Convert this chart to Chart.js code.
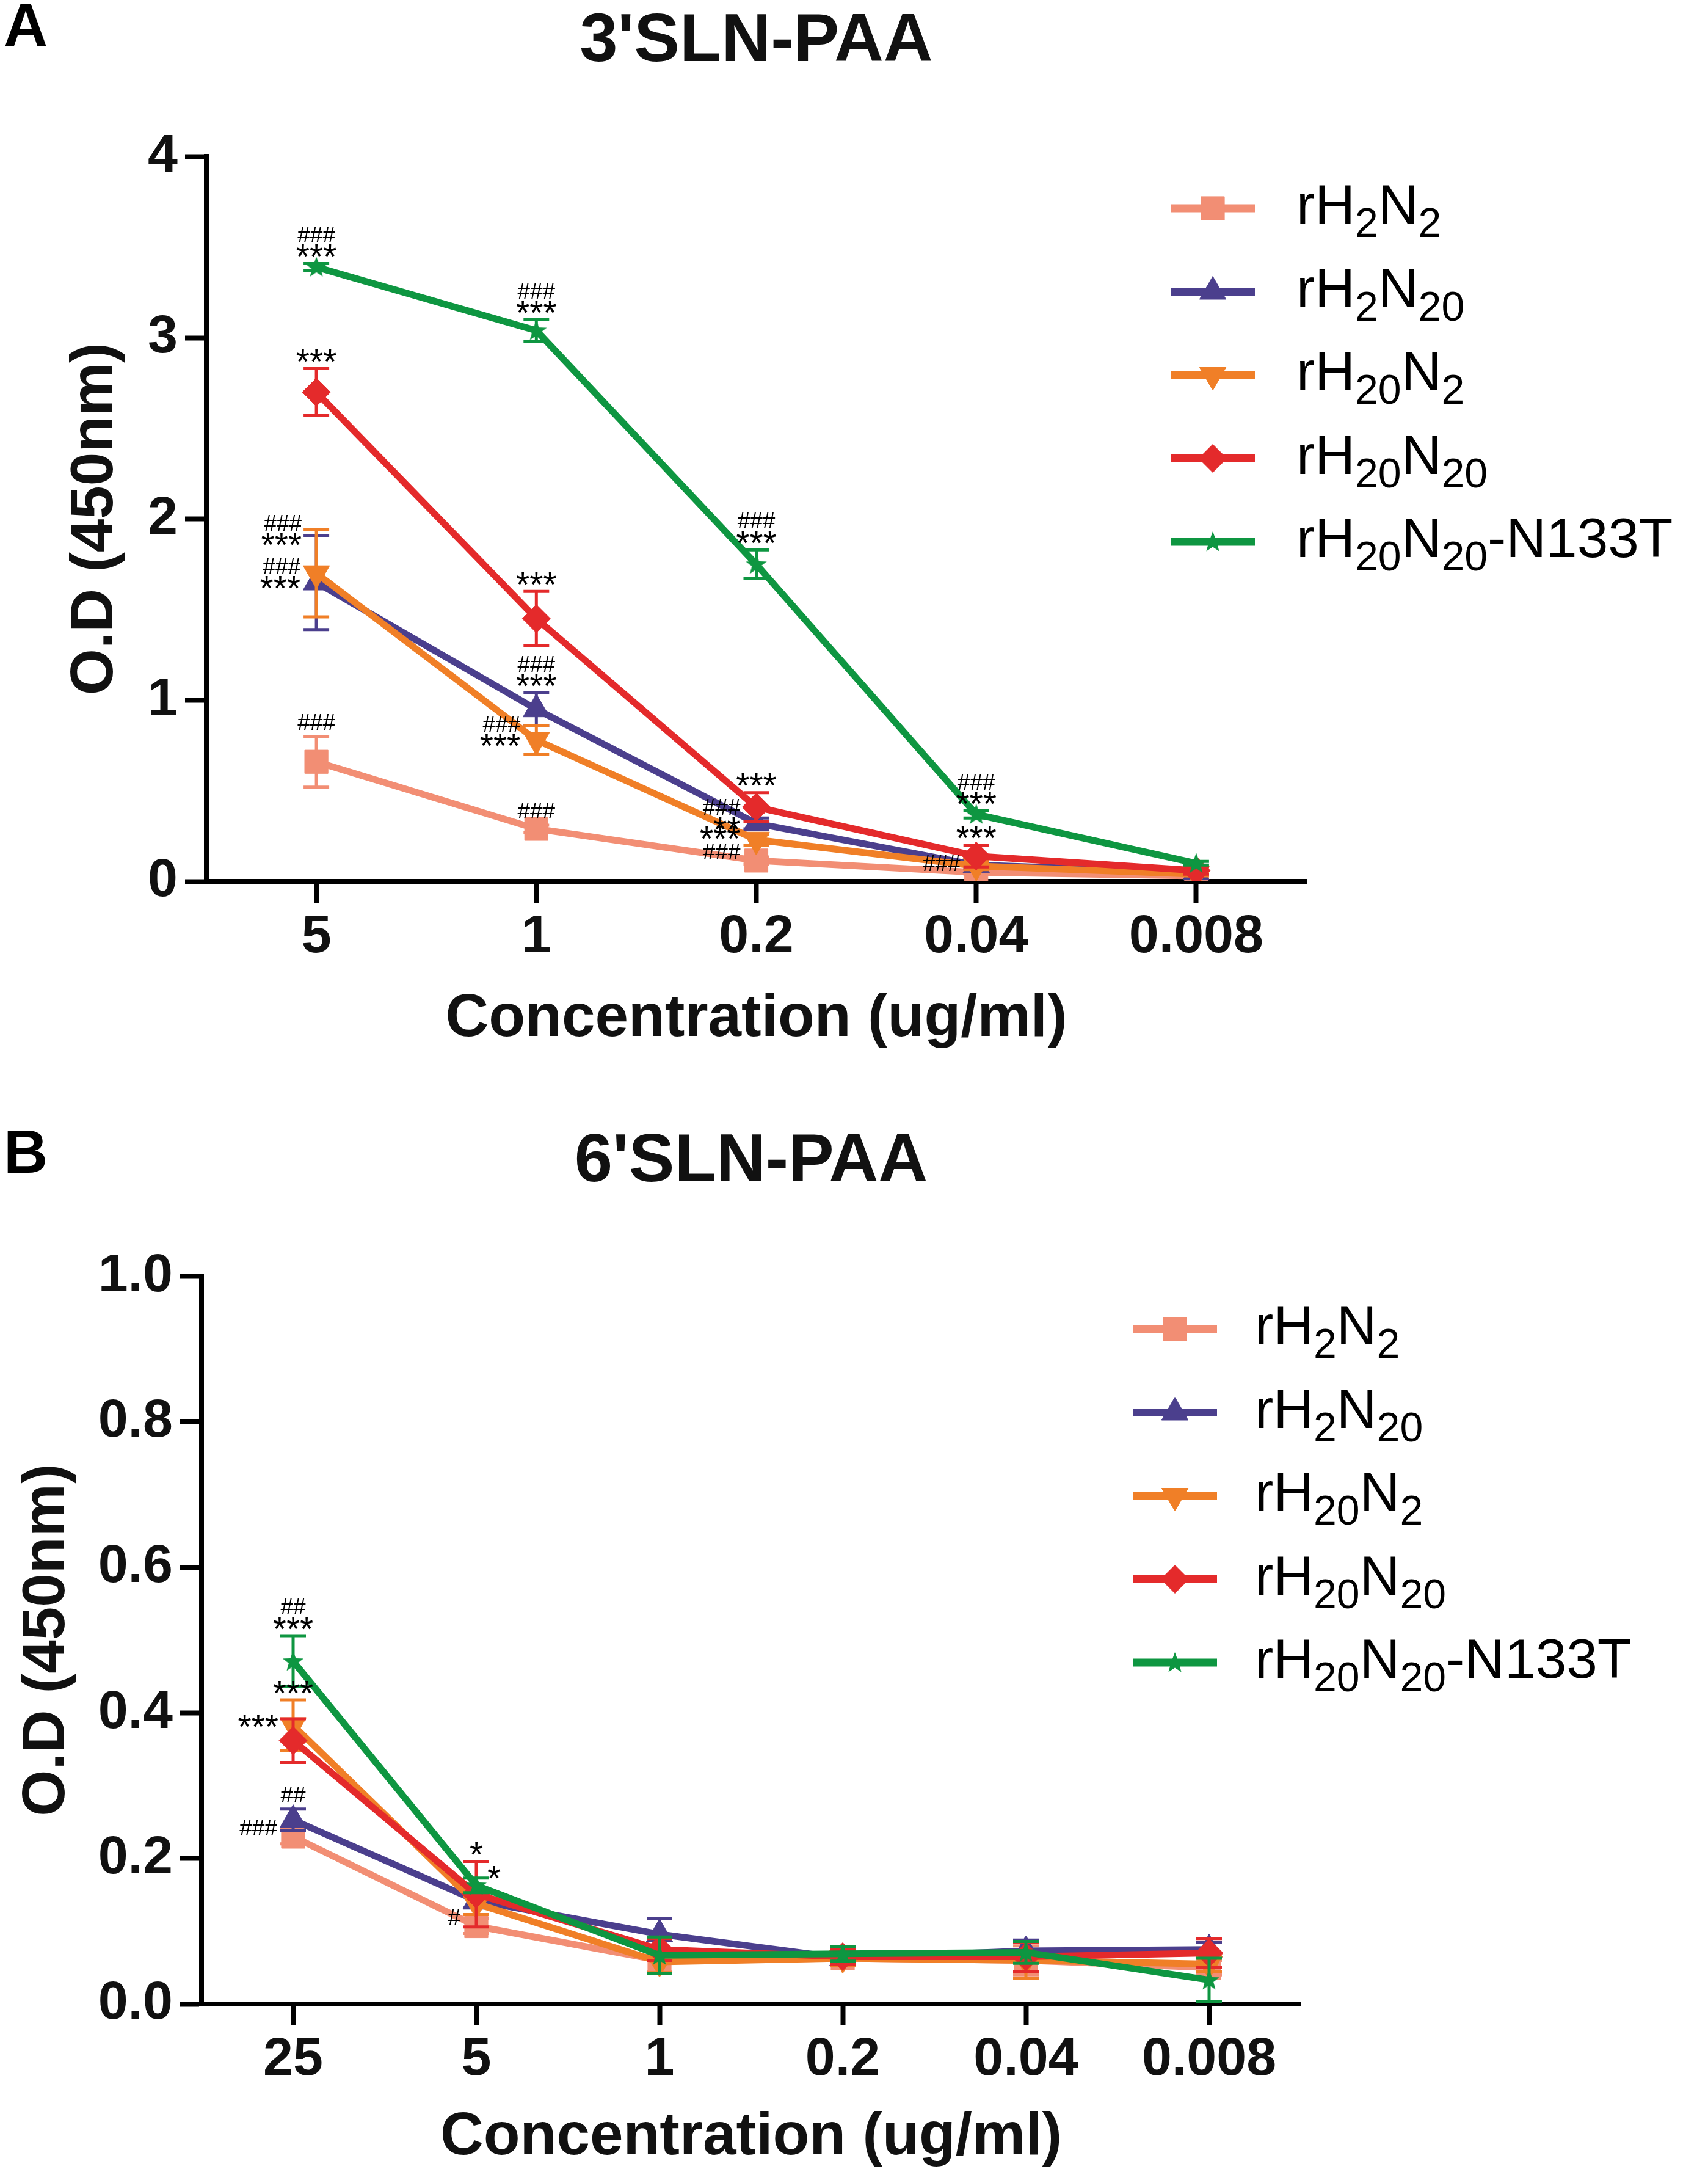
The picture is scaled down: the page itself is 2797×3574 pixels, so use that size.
<!DOCTYPE html>
<html>
<head>
<meta charset="utf-8">
<title>3'SLN-PAA / 6'SLN-PAA binding</title>
<script src="https://cdn.jsdelivr.net/npm/chart.js@4.4.1/dist/chart.umd.min.js"></script>
<style>
  body { margin: 0; background: #fff; }
  canvas { display: block; }
</style>
</head>
<body>
<canvas id="chart-a" width="2797" height="1790"></canvas>
<canvas id="chart-b" width="2797" height="1784"></canvas>
<script>
// series names, "_" marks the subscript digits that follow it
const seriesNames = ["rH_2N_2", "rH_2N_20", "rH_20N_2", "rH_20N_20", "rH_20N_20-N133T"];
const seriesColors = ["#F28E74", "#4B3F8D", "#F07F27", "#E42A2B", "#0E9641"];

// panel A: 3'SLN-PAA
const concA = ["5", "1", "0.2", "0.04", "0.008"];
const h2n2A = [0.66, 0.29, 0.115, 0.05, 0.03];
const h2n20A = [1.65, 0.95, 0.32, 0.09, 0.05];
const h20n2A = [1.70, 0.78, 0.23, 0.085, 0.04];
const h20n20A = [2.70, 1.45, 0.41, 0.14, 0.06];
const n133tA = [3.39, 3.04, 1.75, 0.37, 0.10];
const h2n2ErrA = [0.14, 0.02, 0.02, 0.01, 0.01];
const h2n20ErrA = [0.26, 0.09, 0.03, 0.02, 0.01];
const h20n2ErrA = [0.24, 0.08, 0.03, 0.02, 0.01];
const h20n20ErrA = [0.13, 0.15, 0.08, 0.06, 0.02];
const n133tErrA = [0.02, 0.06, 0.08, 0.02, 0.01];

// panel B: 6'SLN-PAA
const concB = ["25", "5", "1", "0.2", "0.04", "0.008"];
const h2n2B = [0.23, 0.107, 0.06, 0.063, 0.06, 0.05];
const h2n20B = [0.253, 0.142, 0.096, 0.063, 0.073, 0.075];
const h20n2B = [0.383, 0.138, 0.058, 0.063, 0.06, 0.055];
const h20n20B = [0.362, 0.151, 0.075, 0.065, 0.065, 0.07];
const n133tB = [0.471, 0.163, 0.067, 0.069, 0.071, 0.033];
const h2n2ErrB = [0.01, 0.01, 0.015, 0.01, 0.02, 0.01];
const h2n20ErrB = [0.015, 0.01, 0.022, 0.01, 0.015, 0.01];
const h20n2ErrB = [0.035, 0.015, 0.015, 0.01, 0.025, 0.01];
const h20n20ErrB = [0.03, 0.045, 0.015, 0.01, 0.02, 0.02];
const n133tErrB = [0.035, 0.01, 0.025, 0.01, 0.015, 0.03];

// significance marks: series, category, lines (top to bottom), where
const marksA = [
  { s: 4, c: 0, t: ["###", "***"], side: "above" },
  { s: 4, c: 1, t: ["###", "***"], side: "above" },
  { s: 4, c: 2, t: ["###", "***"], side: "above" },
  { s: 4, c: 3, t: ["###", "***"], side: "above" },
  { s: 3, c: 0, t: ["***"], side: "above" },
  { s: 3, c: 1, t: ["***"], side: "above" },
  { s: 3, c: 2, t: ["***"], side: "above" },
  { s: 3, c: 3, t: ["***"], side: "above" },
  { s: 2, c: 0, t: ["###", "***"], side: "leftTop" },
  { s: 1, c: 0, t: ["###", "***"], side: "left" },
  { s: 1, c: 1, t: ["###", "***"], side: "above" },
  { s: 2, c: 1, t: ["###", "***"], side: "left" },
  { s: 1, c: 2, t: ["###", "**"], side: "left" },
  { s: 2, c: 2, t: ["***"], side: "left" },
  { s: 0, c: 0, t: ["###"], side: "above" },
  { s: 0, c: 1, t: ["###"], side: "above" },
  { s: 0, c: 2, t: ["###"], side: "left" },
  { s: 0, c: 3, t: ["###"], side: "left" },
];
const marksB = [
  { s: 4, c: 0, t: ["##", "***"], side: "above" },
  { s: 2, c: 0, t: ["***"], side: "above" },
  { s: 3, c: 0, t: ["***"], side: "leftTop" },
  { s: 1, c: 0, t: ["##"], side: "above" },
  { s: 0, c: 0, t: ["###"], side: "left" },
  { s: 3, c: 1, t: ["*"], side: "above" },
  { s: 4, c: 1, t: ["*"], side: "right" },
  { s: 0, c: 1, t: ["#"], side: "left" },
];

const FONT = "'Liberation Sans', Arial, sans-serif";
const INK = "#111";

// small filled star for the N133T series
function makeStar(color) {
  const c = document.createElement("canvas");
  c.width = 38;
  c.height = 38;
  const g = c.getContext("2d");
  g.fillStyle = color;
  g.beginPath();
  for (let i = 0; i < 10; i++) {
    const r = i % 2 === 0 ? 18 : 7.5;
    const a = -Math.PI / 2 + (i * Math.PI) / 5;
    g.lineTo(19 + r * Math.cos(a), 20 + r * Math.sin(a));
  }
  g.closePath();
  g.fill();
  return c;
}

const pointStyles = [
  { style: "rect", radius: 27, rotation: 0 },
  { style: "triangle", radius: 25, rotation: 0 },
  { style: "triangle", radius: 25, rotation: 180 },
  { style: "rectRot", radius: 23, rotation: 0 },
  { style: makeStar(seriesColors[4]), radius: 18, rotation: 0 },
];

function buildDatasets(values, errors) {
  return values.map((data, i) => ({
    label: seriesNames[i].replace(/_/g, ""),
    data: data,
    errors: errors[i],
    borderColor: seriesColors[i],
    backgroundColor: seriesColors[i],
    borderWidth: 11,
    tension: 0,
    pointStyle: pointStyles[i].style,
    pointRadius: pointStyles[i].radius,
    pointRotation: pointStyles[i].rotation,
    pointBorderWidth: 1,
    pointBackgroundColor: seriesColors[i],
    pointBorderColor: seriesColors[i],
    order: values.length - i,
  }));
}

// draws a label with "_digits" as subscript
function drawRichLabel(ctx, text, x, y) {
  const parts = text.split(/(_\d+)/).filter((p) => p.length);
  let cx = x;
  parts.forEach((p) => {
    if (p[0] === "_") {
      ctx.font = "68px " + FONT;
      ctx.fillText(p.slice(1), cx, y + 22);
      cx += ctx.measureText(p.slice(1)).width;
    } else {
      ctx.font = "91px " + FONT;
      ctx.fillText(p, cx, y);
      cx += ctx.measureText(p).width;
    }
  });
}

const prismDecor = {
  id: "prismDecor",
  beforeDatasetDraw(chart, args) {
    // error bars under each series
    const ds = chart.data.datasets[args.index];
    const yScale = chart.scales.y;
    const ctx = chart.ctx;
    ctx.save();
    ctx.strokeStyle = ds.borderColor;
    ctx.lineWidth = 5;
    args.meta.data.forEach((pt, i) => {
      const e = ds.errors[i];
      if (!e) return;
      const v = ds.data[i];
      const top = yScale.getPixelForValue(v + e);
      const bot = yScale.getPixelForValue(Math.max(v - e, 0));
      ctx.beginPath();
      ctx.moveTo(pt.x, top);
      ctx.lineTo(pt.x, bot);
      ctx.moveTo(pt.x - 21, top);
      ctx.lineTo(pt.x + 21, top);
      ctx.moveTo(pt.x - 21, bot);
      ctx.lineTo(pt.x + 21, bot);
      ctx.stroke();
    });
    ctx.restore();
  },
  afterDatasetsDraw(chart, args, opts) {
    const ctx = chart.ctx;
    const yScale = chart.scales.y;
    ctx.save();
    ctx.fillStyle = "#000";
    ctx.textBaseline = "alphabetic";
    opts.marks.forEach((m) => {
      const ds = chart.data.datasets[m.s];
      const pt = chart.getDatasetMeta(m.s).data[m.c];
      const errTop = yScale.getPixelForValue(ds.data[m.c] + ds.errors[m.c]);
      const pitch = 24;
      const blockH = (m.t.length - 1) * pitch;
      let x = pt.x;
      let lastY;
      let align = "center";
      if (m.side === "above") {
        lastY = errTop - 24;
      } else if (m.side === "left") {
        x = pt.x - 26;
        align = "right";
        lastY = pt.y - 15 + blockH / 2;
      } else if (m.side === "leftTop") {
        x = pt.x - 24;
        align = "right";
        lastY = errTop + blockH / 2;
      } else {
        x = pt.x + 18;
        align = "left";
        lastY = pt.y - 25 + blockH / 2;
      }
      ctx.textAlign = align;
      m.t.forEach((line, k) => {
        const cy = lastY - (m.t.length - 1 - k) * pitch;
        if (line.indexOf("*") >= 0) {
          ctx.font = "57px " + FONT;
          ctx.fillText(line, x, cy + 0.575 * 57);
        } else {
          ctx.font = "37px " + FONT;
          ctx.fillText(line, x, cy + 0.36 * 37);
        }
      });
    });
    ctx.restore();
  },
  afterDraw(chart, args, opts) {
    const ctx = chart.ctx;
    ctx.save();
    // panel letter
    ctx.fillStyle = "#000";
    ctx.textAlign = "left";
    ctx.textBaseline = "alphabetic";
    ctx.font = "bold 100px " + FONT;
    ctx.fillText(opts.letter, 6, opts.letterY);
    // legend with subscripts
    const lg = opts.legend;
    chart.data.datasets.forEach((ds, i) => {
      const y = lg.y + i * 136.5;
      ctx.strokeStyle = ds.borderColor;
      ctx.fillStyle = ds.borderColor;
      ctx.lineWidth = 13;
      ctx.beginPath();
      ctx.moveTo(lg.x, y);
      ctx.lineTo(lg.x + 137, y);
      ctx.stroke();
      if (Chart.helpers && Chart.helpers.drawPoint) {
        ctx.lineWidth = 1;
        Chart.helpers.drawPoint(ctx, {
          pointStyle: ds.pointStyle,
          radius: ds.pointRadius,
          rotation: ds.pointRotation,
          borderWidth: 1,
        }, lg.x + 68, y);
      }
      ctx.fillStyle = "#000";
      drawRichLabel(ctx, seriesNames[i], lg.textX, y + 25);
    });
    ctx.restore();
  },
};

function axisOptions(yMax, yStep, yFmt, yWidth, xHeight, xTitlePad, yTitlePad) {
  const tickFont = { family: FONT, size: 88, weight: "bold" };
  const titleFont = { family: FONT, size: 98, weight: "bold" };
  return {
    x: {
      type: "category",
      offset: true,
      grid: { offset: false, drawOnChartArea: false, drawTicks: true, tickLength: 35, tickWidth: 8, tickColor: "#000" },
      border: { display: true, color: "#000", width: 8 },
      ticks: { font: tickFont, color: INK, padding: 4, maxRotation: 0 },
      title: { display: true, text: "Concentration (ug/ml)", font: titleFont, color: INK, padding: { top: 0, bottom: xTitlePad } },
      afterFit: (s) => { s.height = xHeight; },
    },
    y: {
      min: 0,
      max: yMax,
      grid: { drawOnChartArea: false, drawTicks: true, tickLength: 35, tickWidth: 8, tickColor: "#000" },
      border: { display: true, color: "#000", width: 8 },
      ticks: { stepSize: yStep, font: tickFont, color: INK, padding: 12, callback: yFmt },
      title: { display: true, text: "O.D (450nm)", font: titleFont, color: INK, padding: { top: yTitlePad, bottom: 0 } },
      afterFit: (s) => { s.width = yWidth; },
    },
  };
}

new Chart(document.getElementById("chart-a"), {
  type: "line",
  data: {
    labels: concA,
    datasets: buildDatasets(
      [h2n2A, h2n20A, h20n2A, h20n20A, n133tA],
      [h2n2ErrA, h2n20ErrA, h20n2ErrA, h20n20ErrA, n133tErrA]
    ),
  },
  options: {
    responsive: false,
    animation: false,
    devicePixelRatio: 1,
    layout: { padding: { top: 2, right: 658, bottom: 0, left: 0 } },
    plugins: {
      legend: { display: false },
      tooltip: { enabled: false },
      title: {
        display: true,
        text: "3'SLN-PAA",
        fullSize: false,
        color: INK,
        font: { family: FONT, size: 112, weight: "bold" },
        padding: { top: 0, bottom: 120 },
      },
      prismDecor: {
        letter: "A",
        letterY: 76,
        marks: marksA,
        legend: { x: 1918, y: 341, textX: 2123 },
      },
    },
    scales: axisOptions(4, 1, (v) => v, 338, 347, 62, 98),
  },
  plugins: [prismDecor],
});

new Chart(document.getElementById("chart-b"), {
  type: "line",
  data: {
    labels: concB,
    datasets: buildDatasets(
      [h2n2B, h2n20B, h20n2B, h20n20B, n133tB],
      [h2n2ErrB, h2n20ErrB, h20n2ErrB, h20n20ErrB, n133tErrB]
    ),
  },
  options: {
    responsive: false,
    animation: false,
    devicePixelRatio: 1,
    layout: { padding: { top: 46, right: 667, bottom: 0, left: 0 } },
    plugins: {
      legend: { display: false },
      tooltip: { enabled: false },
      title: {
        display: true,
        text: "6'SLN-PAA",
        fullSize: false,
        color: INK,
        font: { family: FONT, size: 112, weight: "bold" },
        padding: { top: 0, bottom: 119 },
      },
      prismDecor: {
        letter: "B",
        letterY: 130,
        marks: marksB,
        legend: { x: 1856, y: 386, textX: 2055 },
      },
    },
    scales: axisOptions(1, 0.2, (v) => Number(v).toFixed(1), 330, 293, 15, 19),
  },
  plugins: [prismDecor],
});
</script>
</body>
</html>
